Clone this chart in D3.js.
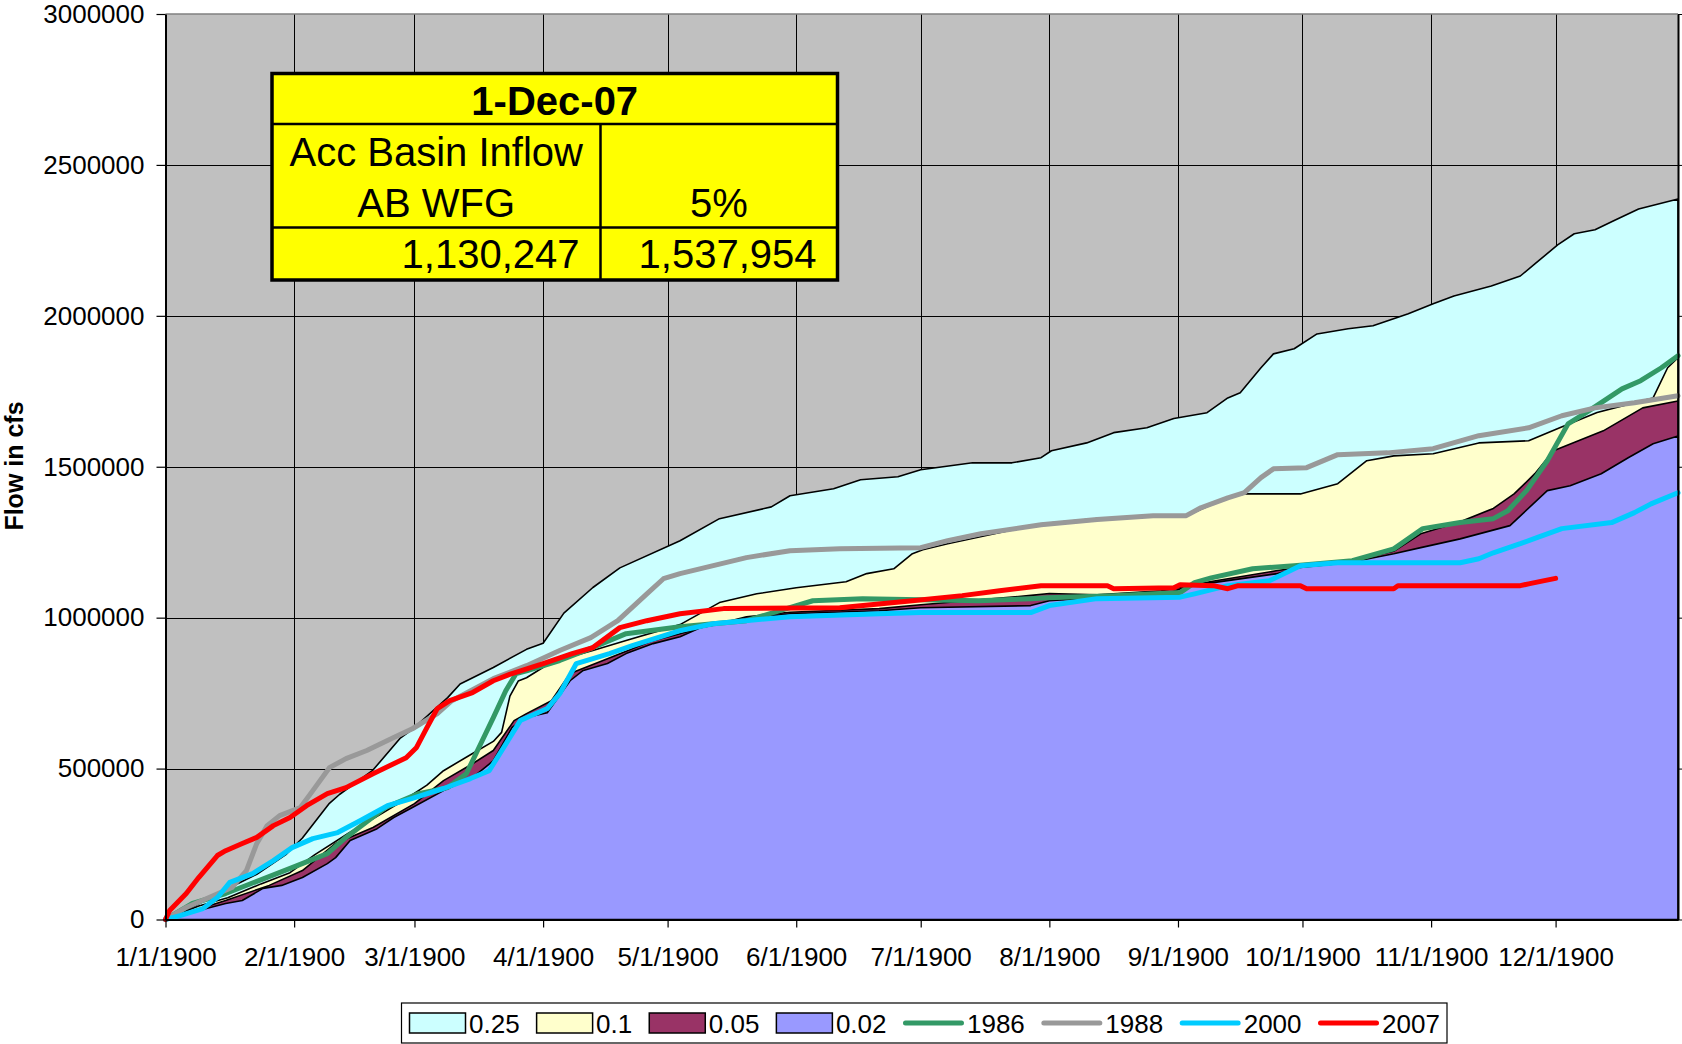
<!DOCTYPE html>
<html>
<head>
<meta charset="utf-8">
<script src="https://cdn.jsdelivr.net/npm/d3@7.9.0/dist/d3.min.js"></script>
<style>
  body { margin: 0; background: #fff; }
  svg { display: block; font-family: "Liberation Sans", Arial, sans-serif; }
</style>
</head>
<body>
<svg id="chart" width="1682" height="1044"></svg>
<script>
// day index from 1/1/1900, Excel style (Feb 1900 has 29 days)
const monthDays = [0, 31, 60, 91, 121, 152, 182, 213, 244, 274, 305, 335];
const monthLabels = ["1/1/1900", "2/1/1900", "3/1/1900", "4/1/1900", "5/1/1900", "6/1/1900",
  "7/1/1900", "8/1/1900", "9/1/1900", "10/1/1900", "11/1/1900", "12/1/1900"];
const yTicks = [0, 500000, 1000000, 1500000, 2000000, 2500000, 3000000];

// exceedance envelopes, [day, cfs]
const p25 = [[0,0],[7,45000],[14,95000],[22,150000],[29,215000],[33,270000],[39.5,385000],[42,415000],
  [50,495000],[56.5,600000],[59.5,630000],[68,735000],[71,780000],[79,835000],[87,895000],[91,915000],
  [96,1015000],[103,1100000],[109.5,1165000],[124,1255000],[133.5,1328000],[146,1367000],[150.5,1404000],
  [161,1427000],[167.5,1457000],[176.5,1467000],[182,1490000],[194.5,1513000],[204,1513000],[211,1530000],
  [213.5,1553000],[222,1579000],[228.5,1613000],[236.5,1629000],[243,1660000],[251,1679000],[256,1728000],
  [259,1745000],[264,1828000],[267,1874000],[272,1891000],[277.5,1940000],[285,1957000],[291,1967000],
  [299.5,2007000],[305.5,2040000],[310.5,2066000],[319.5,2099000],[326.5,2132000],[330,2172000],
  [335.5,2235000],[339.5,2272000],[344.5,2285000],[349,2315000],[355,2354000],[364.5,2387000]];
const p10 = [[0,0],[8,45000],[15,72000],[23,118000],[30,155000],[36,215000],[44,285000],[52,350000],
  [58,400000],[63,445000],[67,493000],[74,550000],[79,590000],[81,620000],[83,740000],[85,790000],
  [87,801000],[92.5,848000],[97,868000],[103,891000],[111,924000],[124,977000],[133.5,1050000],
  [142.5,1079000],[152,1099000],[164,1119000],[169,1146000],[175.5,1162000],[180,1212000],[182.5,1225000],
  [188.5,1245000],[211,1311000],[224.5,1328000],[238,1336000],[246,1338000],[256,1397000],[260,1410000],
  [273.5,1410000],[282.5,1444000],[289.5,1520000],[296,1536000],[305.5,1543000],[316.5,1579000],
  [328.5,1586000],[336,1629000],[345,1680000],[352,1705000],[358.5,1728000],[362,1828000],[364.5,1861000]];
const p05 = [[0,0],[8,35000],[14.5,63000],[25,113000],[33,162000],[41,252000],[50,305000],[60,384000],
  [67,460000],[74,516000],[79,560000],[84,659000],[87,682000],[93,725000],[97.5,815000],[106.5,864000],
  [117.5,924000],[124,947000],[140,1003000],[150.5,1018000],[172,1030000],[182,1043000],[208,1073000],
  [213,1080000],[224.5,1076000],[240,1089000],[252,1120000],[268,1156000],[288,1195000],[296,1220000],
  [302.5,1278000],[312,1318000],[320,1362000],[325,1410000],[330,1477000],[334.5,1553000],[340.5,1586000],
  [346.5,1619000],[356,1695000],[364.5,1718000]];
const p02 = [[0,0],[8,30000],[14.5,53000],[18.5,63000],[23.5,103000],[28,113000],[33,139000],[39,185000],
  [41,205000],[44.5,262000],[51,301000],[55,338000],[59.5,371000],[67,427000],[74,470000],[79,526000],
  [83.5,636000],[87,669000],[92,685000],[97.5,791000],[100.5,824000],[106.5,848000],[111,881000],
  [117.5,914000],[124,937000],[129,967000],[140,997000],[150.5,1013000],[172,1023000],[182,1033000],
  [208.5,1040000],[213,1056000],[224.5,1066000],[240,1073000],[248,1112000],[252.5,1116000],[268,1146000],
  [273.5,1166000],[285,1182000],[296,1212000],[302.5,1232000],[312,1261000],[324,1305000],[333,1421000],
  [338.5,1437000],[346,1477000],[352.5,1530000],[358.5,1576000],[364.5,1602000]];

// observed years
const y1986 = [[0,0],[6.5,53000],[14.5,86000],[22.5,129000],[30.5,172000],[39,218000],[43.5,272000],
  [53,371000],[61,417000],[68,437000],[72.5,483000],[76,583000],[79,669000],[82,758000],[84.5,815000],
  [87,824000],[95,858000],[103,901000],[111,947000],[124,970000],[140,990000],[156,1056000],[168,1063000],
  [196,1056000],[208.5,1063000],[212.5,1066000],[228.5,1073000],[244.5,1083000],[248,1116000],
  [252,1132000],[262,1162000],[272,1172000],[286,1189000],[296,1228000],[303,1295000],[312,1315000],
  [320,1328000],[323.5,1354000],[328,1421000],[333,1520000],[338,1642000],[343,1685000],[351,1758000],
  [355.5,1785000],[360.5,1828000],[364.5,1868000]];
const y1988 = [[0,0],[5,40000],[10.5,73000],[16,106000],[19.5,162000],[22,252000],[24.5,311000],
  [27.5,344000],[32.5,371000],[35.5,427000],[39.5,503000],[43.5,533000],[48.5,560000],[55,603000],
  [59.5,632000],[65.5,682000],[69,725000],[79,798000],[87,841000],[95,891000],[102.5,934000],[109,990000],
  [116,1079000],[120,1129000],[124,1146000],[140,1199000],[150.5,1222000],[162.5,1228000],[182,1232000],
  [188.5,1255000],[196.5,1278000],[211,1308000],[224.5,1325000],[238,1338000],[246,1338000],
  [249.5,1364000],[256,1397000],[260,1414000],[264,1464000],[267,1493000],[275,1497000],[282.5,1540000],
  [294.5,1546000],[305.5,1560000],[316.5,1603000],[328.5,1629000],[336.5,1669000],[344.5,1695000],
  [354,1712000],[364.5,1735000]];
const y2000 = [[0,0],[3.5,13000],[9,36000],[12.5,73000],[15.5,123000],[21,152000],[26,195000],
  [30.5,238000],[35.5,268000],[41.5,288000],[47,328000],[53.5,377000],[59.5,401000],[67,434000],
  [73.5,467000],[78,493000],[81.5,570000],[85.5,659000],[92,699000],[95,748000],[99,848000],[107,881000],
  [112.5,907000],[124,957000],[132,980000],[150.5,1003000],[172,1013000],[182,1017000],[208.5,1017000],
  [213,1040000],[224.5,1063000],[244.5,1068000],[248,1079000],[256,1106000],[266,1122000],[273.5,1172000],
  [282.5,1182000],[312,1182000],[316.5,1195000],[320,1215000],[326.5,1245000],[330.5,1265000],
  [336.5,1295000],[348.5,1315000],[354,1348000],[358,1377000],[364.5,1414000]];
const y2007 = [[0,0],[1,30000],[5,86000],[8,139000],[12.5,212000],[14.5,228000],[18.5,252000],[22,272000],
  [26,311000],[30,338000],[34,377000],[39,417000],[43.5,437000],[50,483000],[58,536000],[60.5,570000],
  [63,636000],[65.5,699000],[68.5,725000],[74,752000],[79,791000],[83.5,815000],[91,848000],[98,881000],
  [103,901000],[109.5,967000],[116,990000],[124,1013000],[134.5,1030000],[162.5,1033000],[180,1056000],
  [192,1073000],[201,1089000],[211,1106000],[227,1106000],[228.5,1096000],[243,1099000],[244.5,1109000],
  [252.5,1106000],[256,1096000],[258.5,1106000],[273.5,1106000],[275,1096000],[296,1096000],[297,1106000],
  [326.5,1106000],[328.5,1112000],[332,1122000],[335,1130247]];

const areas = [
  { name: "0.25", data: p25, fill: "#ccffff" },
  { name: "0.1", data: p10, fill: "#ffffcc" },
  { name: "0.05", data: p05, fill: "#993366" },
  { name: "0.02", data: p02, fill: "#9999ff" },
];
const lines = [
  { name: "1986", data: y1986, color: "#339966" },
  { name: "1988", data: y1988, color: "#999999" },
  { name: "2000", data: y2000, color: "#00ccff" },
  { name: "2007", data: y2007, color: "#ff0000" },
];

const tableTitle = "1-Dec-07";
const tableHead = ["Acc Basin Inflow", "AB WFG", "5%"];
const tableValues = ["1,130,247", "1,537,954"];

const svg = d3.select("#chart");
const plot = { left: 165.5, right: 1678, top: 14, bottom: 919.5 };

const x = d3.scaleLinear().domain([0, 364.5]).range([plot.left, plot.right]);
const y = d3.scaleLinear().domain([0, 3000000]).range([plot.bottom, plot.top]);

svg.append("rect")
  .attr("x", plot.left).attr("y", plot.top)
  .attr("width", plot.right - plot.left).attr("height", plot.bottom - plot.top)
  .attr("fill", "#c0c0c0");

// gridlines
const hGrid = svg.append("g")
  .attr("transform", `translate(${plot.left},0)`)
  .call(d3.axisLeft(y).tickValues(yTicks.slice(1, -1)).tickFormat("")
    .tickSize(-(plot.right - plot.left)).tickSizeOuter(0));
hGrid.select(".domain").remove();
hGrid.selectAll("line").attr("stroke", "#000").attr("shape-rendering", "crispEdges");

const vGrid = svg.append("g")
  .attr("transform", `translate(0,${plot.bottom})`)
  .call(d3.axisBottom(x).tickValues(monthDays.slice(1)).tickFormat("")
    .tickSize(-(plot.bottom - plot.top)).tickSizeOuter(0));
vGrid.select(".domain").remove();
vGrid.selectAll("line").attr("stroke", "#000").attr("shape-rendering", "crispEdges");

// areas
const area = d3.area()
  .x((d) => x(d[0]))
  .y0(y(0))
  .y1((d) => y(d[1]));

svg.append("g")
  .selectAll("path")
  .data(areas)
  .join("path")
  .attr("d", (d) => area(d.data))
  .attr("fill", (d) => d.fill)
  .attr("stroke", "#000")
  .attr("stroke-width", 1.6)
  .attr("stroke-linejoin", "round");

// year lines
const line = d3.line()
  .x((d) => x(d[0]))
  .y((d) => y(d[1]));

svg.append("g")
  .selectAll("path")
  .data(lines)
  .join("path")
  .attr("d", (d) => line(d.data))
  .attr("fill", "none")
  .attr("stroke", (d) => d.color)
  .attr("stroke-width", 5)
  .attr("stroke-linejoin", "round")
  .attr("stroke-linecap", "round");

// plot frame
svg.append("line")
  .attr("x1", plot.left).attr("x2", plot.right).attr("y1", plot.top).attr("y2", plot.top)
  .attr("stroke", "#808080").attr("stroke-width", 1.5);

const rightAxis = svg.append("g")
  .attr("transform", `translate(${plot.right},0)`)
  .call(d3.axisRight(y).tickValues(yTicks).tickFormat("").tickSize(4).tickSizeOuter(0));
rightAxis.select(".domain").attr("stroke", "#000").attr("stroke-width", 2);
rightAxis.selectAll("line").attr("stroke", "#000");

const xAxis = svg.append("g")
  .attr("transform", `translate(0,${plot.bottom})`)
  .call(d3.axisBottom(x).tickValues(monthDays).tickFormat((d, i) => monthLabels[i])
    .tickSize(8).tickPadding(20).tickSizeOuter(0));
xAxis.select(".domain").attr("stroke", "#000").attr("stroke-width", 2);
xAxis.selectAll("line").attr("stroke", "#000").attr("stroke-width", 1.2);
xAxis.selectAll("text")
  .attr("font-size", 26).attr("font-family", "Liberation Sans, Arial, sans-serif").attr("fill", "#000");

const yAxis = svg.append("g")
  .attr("transform", `translate(${plot.left},0)`)
  .call(d3.axisLeft(y).tickValues(yTicks).tickFormat(d3.format("d"))
    .tickSize(9).tickPadding(12).tickSizeOuter(0));
yAxis.select(".domain").attr("stroke", "#000").attr("stroke-width", 2);
yAxis.selectAll("line").attr("stroke", "#000").attr("stroke-width", 1.2);
yAxis.selectAll("text")
  .attr("font-size", 26).attr("font-family", "Liberation Sans, Arial, sans-serif").attr("fill", "#000");

svg.append("text")
  .attr("transform", "translate(23,466) rotate(-90)")
  .attr("text-anchor", "middle")
  .attr("font-size", 25)
  .attr("font-weight", "bold")
  .text("Flow in cfs");

// info table
const tb = { x0: 272, x1: 837.5, xm: 600.5, y0: 73.5, y1: 124, y2: 227.5, y3: 280 };
const table = svg.append("g");
table.append("rect")
  .attr("x", tb.x0).attr("y", tb.y0)
  .attr("width", tb.x1 - tb.x0).attr("height", tb.y3 - tb.y0)
  .attr("fill", "#ffff00").attr("stroke", "#000").attr("stroke-width", 3.5);
table.append("line").attr("x1", tb.x0).attr("x2", tb.x1).attr("y1", tb.y1).attr("y2", tb.y1)
  .attr("stroke", "#000").attr("stroke-width", 2.5);
table.append("line").attr("x1", tb.x0).attr("x2", tb.x1).attr("y1", tb.y2).attr("y2", tb.y2)
  .attr("stroke", "#000").attr("stroke-width", 2.5);
table.append("line").attr("x1", tb.xm).attr("x2", tb.xm).attr("y1", tb.y1).attr("y2", tb.y3)
  .attr("stroke", "#000").attr("stroke-width", 2.5);

table.append("text")
  .attr("x", (tb.x0 + tb.x1) / 2).attr("y", 115)
  .attr("text-anchor", "middle").attr("font-size", 40).attr("font-weight", "bold")
  .text(tableTitle);
table.append("text")
  .attr("x", (tb.x0 + tb.xm) / 2).attr("y", 166)
  .attr("text-anchor", "middle").attr("font-size", 40)
  .text(tableHead[0]);
table.append("text")
  .attr("x", (tb.x0 + tb.xm) / 2).attr("y", 216.5)
  .attr("text-anchor", "middle").attr("font-size", 40)
  .text(tableHead[1]);
table.append("text")
  .attr("x", (tb.xm + tb.x1) / 2).attr("y", 216.5)
  .attr("text-anchor", "middle").attr("font-size", 40)
  .text(tableHead[2]);
table.append("text")
  .attr("x", tb.xm - 21).attr("y", 268)
  .attr("text-anchor", "end").attr("font-size", 40)
  .text(tableValues[0]);
table.append("text")
  .attr("x", tb.x1 - 21).attr("y", 268)
  .attr("text-anchor", "end").attr("font-size", 40)
  .text(tableValues[1]);

// legend
const legend = svg.append("g");
legend.append("rect")
  .attr("x", 401.5).attr("y", 1003).attr("width", 1045.5).attr("height", 40)
  .attr("fill", "#fff").attr("stroke", "#000").attr("stroke-width", 1.2);

let lx = 409.5;
const legendItems = [
  ...areas.map((d) => ({ name: d.name, kind: "area", color: d.fill })),
  ...lines.map((d) => ({ name: d.name, kind: "line", color: d.color })),
];
for (const item of legendItems) {
  let w;
  if (item.kind === "area") {
    w = 56;
    legend.append("rect")
      .attr("x", lx).attr("y", 1013).attr("width", w).attr("height", 20)
      .attr("fill", item.color).attr("stroke", "#000").attr("stroke-width", 1.5);
  } else {
    w = 60;
    legend.append("line")
      .attr("x1", lx + 2).attr("x2", lx + w - 2).attr("y1", 1023).attr("y2", 1023)
      .attr("stroke", item.color).attr("stroke-width", 5).attr("stroke-linecap", "round");
  }
  const t = legend.append("text")
    .attr("x", lx + w + 3.5).attr("y", 1032.5)
    .attr("font-size", 26)
    .text(item.name);
  lx += w + 3.5 + t.node().getComputedTextLength() + 17;
}
</script>
</body>
</html>
